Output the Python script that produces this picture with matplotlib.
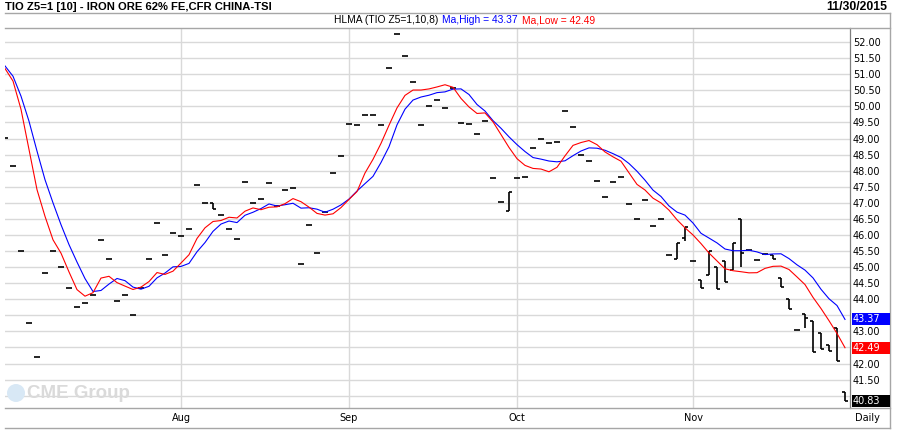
import matplotlib
matplotlib.use('Agg')
import matplotlib.pyplot as plt
import matplotlib.transforms as mtrans
from matplotlib.collections import LineCollection
from matplotlib.patches import Rectangle, Ellipse
from matplotlib.lines import Line2D
import numpy as np
import pandas as pd

# ---------------- data ----------------
opens = [49.02, 48.16, 45.51, 43.26, 42.20, 44.81, 45.51, 45.00, 44.35, 43.75,
         43.88, 44.13, 45.84, 45.25, 43.94, 44.13, 43.51, 44.35, 45.25, 46.37,
         45.38, 46.06, 45.97, 46.19, 47.56, 47.00, 47.00, 46.62, 46.19, 45.88,
         47.66, 47.00, 47.12, 47.62, 46.91, 47.41, 47.46, 45.10, 46.31, 45.44,
         46.70, 47.94, 48.46, 49.44, 49.41, 49.72, 49.72, 49.41, 51.21, 52.26,
         51.58, 50.77, 49.41, 50.00, 50.21, 49.96, 50.58, 49.48, 49.46, 49.15,
         49.55, 47.78, 47.03, 46.76, 47.78, 47.81, 48.71, 48.99, 48.87, 48.90,
         49.87, 49.37, 48.49, 48.31, 47.68, 47.18, 47.65, 47.81, 46.97, 46.50,
         47.09, 46.28, 46.50, 45.38, 45.25, 45.90, 45.19, 44.61, 44.74, 44.99,
         45.19, 44.90, 46.50, 45.53, 45.23, 45.42, 45.38, 44.66, 44.00, 43.05,
         43.54, 43.33, 42.96, 42.58, 43.12, 41.10]
highs = [49.02, 48.16, 45.51, 43.26, 42.20, 44.81, 45.51, 45.00, 44.35, 43.75,
         43.88, 44.13, 45.84, 45.25, 43.94, 44.13, 43.51, 44.35, 45.25, 46.37,
         45.38, 46.06, 45.97, 46.19, 47.56, 47.00, 47.00, 46.62, 46.19, 45.88,
         47.66, 47.00, 47.12, 47.62, 46.91, 47.41, 47.46, 45.10, 46.31, 45.44,
         46.70, 47.94, 48.46, 49.44, 49.41, 49.72, 49.72, 49.41, 51.21, 52.26,
         51.58, 50.77, 49.41, 50.00, 50.21, 49.96, 50.58, 49.48, 49.46, 49.15,
         49.55, 47.78, 47.03, 47.34, 47.78, 47.81, 48.71, 48.99, 48.87, 48.90,
         49.87, 49.37, 48.49, 48.31, 47.68, 47.18, 47.65, 47.81, 46.97, 46.50,
         47.09, 46.28, 46.50, 45.38, 45.75, 46.25, 45.19, 44.61, 45.49, 44.99,
         45.19, 45.75, 46.50, 45.53, 45.23, 45.42, 45.38, 44.66, 44.00, 43.05,
         43.54, 43.33, 42.96, 42.58, 43.12, 41.10]
lows = [49.02, 48.16, 45.51, 43.26, 42.20, 44.81, 45.51, 45.00, 44.35, 43.75,
        43.88, 44.13, 45.84, 45.25, 43.94, 44.13, 43.51, 44.35, 45.25, 46.37,
        45.38, 46.06, 45.97, 46.19, 47.56, 47.00, 46.82, 46.62, 46.19, 45.88,
        47.66, 47.00, 47.12, 47.62, 46.91, 47.41, 47.46, 45.10, 46.31, 45.44,
        46.70, 47.94, 48.46, 49.44, 49.41, 49.72, 49.72, 49.41, 51.21, 52.26,
        51.58, 50.77, 49.41, 50.00, 50.21, 49.96, 50.58, 49.48, 49.46, 49.15,
        49.55, 47.78, 47.03, 46.76, 47.78, 47.81, 48.71, 48.99, 48.87, 48.90,
        49.87, 49.37, 48.49, 48.31, 47.68, 47.18, 47.65, 47.81, 46.97, 46.50,
        47.09, 46.28, 46.50, 45.38, 45.25, 45.81, 45.19, 44.35, 44.74, 44.32,
        44.54, 44.90, 45.00, 45.53, 45.23, 45.42, 45.25, 44.38, 43.69, 43.05,
        43.10, 42.35, 42.45, 42.39, 42.07, 40.83]
closes = [49.02, 48.16, 45.51, 43.26, 42.20, 44.81, 45.51, 45.00, 44.35, 43.75,
          43.88, 44.13, 45.84, 45.25, 43.94, 44.13, 43.51, 44.35, 45.25, 46.37,
          45.38, 46.06, 45.97, 46.19, 47.56, 47.00, 46.82, 46.62, 46.19, 45.88,
          47.66, 47.00, 47.12, 47.62, 46.91, 47.41, 47.46, 45.10, 46.31, 45.44,
          46.70, 47.94, 48.46, 49.44, 49.41, 49.72, 49.72, 49.41, 51.21, 52.26,
          51.58, 50.77, 49.41, 50.00, 50.21, 49.96, 50.58, 49.48, 49.46, 49.15,
          49.55, 47.78, 47.03, 47.34, 47.78, 47.81, 48.71, 48.99, 48.87, 48.90,
          49.87, 49.37, 48.49, 48.31, 47.68, 47.18, 47.65, 47.81, 46.97, 46.50,
          47.09, 46.28, 46.50, 45.38, 45.75, 46.25, 45.19, 44.35, 45.49, 44.32,
          44.54, 45.75, 45.44, 45.53, 45.23, 45.42, 45.25, 44.38, 43.69, 43.05,
          43.41, 42.35, 42.45, 42.39, 42.07, 40.83]

# moving-average values before the windows fill
ma_high_lead = [51.26, 50.94, 50.32, 49.54, 48.61, 47.72, 47.00, 46.32, 45.70]
ma_low_lead = [51.18, 50.79, 49.91, 48.66, 47.41, 46.58, 45.85]

month_labels = ['Aug', 'Sep', 'Oct', 'Nov']
month_start_idx = [22, 43, 64, 86]
y_ticks = [41.0, 41.5, 42.0, 42.5, 43.0, 43.5, 44.0, 44.5, 45.0, 45.5, 46.0,
           46.5, 47.0, 47.5, 48.0, 48.5, 49.0, 49.5, 50.0, 50.5, 51.0, 51.5, 52.0]

title = 'TIO Z5=1 [10] - IRON ORE 62% FE,CFR CHINA-TSI'
date_text = '11/30/2015'

# ---------------- derived series ----------------
ma_high = pd.Series(highs).rolling(10).mean().to_numpy()
ma_high[:len(ma_high_lead)] = ma_high_lead
ma_low = pd.Series(lows).rolling(8).mean().to_numpy()
ma_low[:len(ma_low_lead)] = ma_low_lead

# ---------------- figure ----------------
W, H = 897, 436
fig = plt.figure(figsize=(W / 100, H / 100), dpi=100, facecolor='white')
renderer = fig.canvas.get_renderer()

def fx(px):
    return px / W

def fy(py):
    return 1 - py / H

def text_w(t):
    return t.get_window_extent(renderer).width

ax_left, ax_right, ax_top, ax_bot = 5, 850, 27.7, 408.3
ax = fig.add_axes([fx(ax_left), fy(ax_bot), fx(ax_right - ax_left),
                   (ax_bot - ax_top) / H])
ax.set_facecolor('none')
n = len(closes)
xs = np.arange(n)
ax.set_xlim(0, (ax_right - ax_left) / 8.0)
ax.set_ylim(40.606, 52.45)

box_h = 12 / 32.08
box_vals = [(ma_high[-1], '#0000ff'), (ma_low[-1], '#ff0000'),
            (closes[-1], '#000000')]

# grid + tick labels (labels covered by a value box are left blank)
def tick_label(v):
    for bv, _ in box_vals:
        if abs(v - bv) < box_h / 2:
            return ''
    return f'{v:.2f}'

ax.set_yticks(y_ticks)
ax.set_yticklabels([tick_label(v) for v in y_ticks])
ax.yaxis.tick_right()
ax.set_xticks(month_start_idx)
ax.set_xticklabels(month_labels)
ax.tick_params(axis='y', length=0, pad=2.2, labelsize=7, labelcolor='black')
ax.tick_params(axis='x', length=0, pad=3.6, labelsize=7, labelcolor='black')
ax.grid(True, color='#d9d9d9', lw=1.0)
ax.set_axisbelow(True)
for s in ['left', 'top', 'bottom']:
    ax.spines[s].set_visible(False)
ax.spines['right'].set_color('#7f7f7f')
ax.spines['right'].set_linewidth(0.9)

# OHLC bars
half = 0.375
segs = []
for i in range(n):
    if highs[i] > lows[i]:
        segs.append([(xs[i], lows[i]), (xs[i], highs[i])])
    segs.append([(xs[i] - half, opens[i]), (xs[i], opens[i])])
    segs.append([(xs[i], closes[i]), (xs[i] + half, closes[i])])
ax.add_collection(LineCollection(segs, colors='black', linewidths=1.2,
                                 capstyle='butt', zorder=3))

# HLMA lines
ax.plot(xs, ma_high, color='#0000ff', lw=0.8, zorder=4)
ax.plot(xs, ma_low, color='#ff0000', lw=0.8, zorder=4)

# frame lines
gray = '#a6a6a6'
def hline(py, x0=5, x1=890, c=gray, lw=1.0):
    fig.add_artist(Line2D([fx(x0), fx(x1)], [fy(py), fy(py)], color=c, lw=lw,
                          transform=fig.transFigure))
hline(13.3)
hline(27.7)
hline(408.3)
hline(428.0)
fig.add_artist(Line2D([fx(890), fx(890)], [fy(13.3), fy(428)], color=gray,
                      lw=1.0, transform=fig.transFigure))

# header texts
fam = ['Liberation Sans', 'DejaVu Sans']
t = fig.text(fx(5), fy(7.3), title, fontsize=9, fontweight='bold',
             family=fam, va='center', ha='left')
t.set_fontsize(9 * 267 / text_w(t))
fig.text(fx(887), fy(7.3), date_text, fontsize=8.8, fontweight='bold',
         family=fam, va='center', ha='right')

pieces = [('HLMA (TIO Z5=1,10,8)', 'black', 334),
          (f'Ma,High = {ma_high[-1]:.2f}', '#0000ff', 410),
          (f'Ma,Low = {ma_low[-1]:.2f}', '#ff0000', 505)]
hs = 7.2
probe = fig.text(0, 0, pieces[2][0], fontsize=hs, family=fam)
hs = hs * 74 / text_w(probe)
probe.remove()
xcur = 0
for txt, col, x0 in pieces:
    xpos = max(x0, xcur)
    tt = fig.text(fx(xpos), fy(20.3), txt, fontsize=hs, family=fam,
                  color=col, va='center', ha='left')
    xcur = xpos + text_w(tt) + 4

# Daily label
fig.text(fx(867), fy(418), 'Daily', fontsize=7, ha='center', va='center')

# value boxes on the price axis
bt = mtrans.blended_transform_factory(fig.transFigure, ax.transData)
for val, col in box_vals:
    fig.add_artist(Rectangle((fx(851.5), val - box_h / 2), fx(38), box_h,
                             transform=bt, facecolor=col, edgecolor='none',
                             zorder=10))
    fig.text(fx(853), val, f'{val:.2f}', transform=bt, fontsize=7,
             color='white', va='center', ha='left', zorder=11)

# CME Group watermark
fig.add_artist(Ellipse((fx(16), fy(393)), fx(18), 18 / H,
                       transform=fig.transFigure, facecolor='#d8e8f5',
                       edgecolor='none', zorder=0.5))
fig.text(fx(27), fy(393), 'CME Group', fontsize=13.5, fontweight='bold',
         family=fam, color='#dadada', va='center', ha='left', zorder=0.5)

fig.savefig('out.png', dpi=100, facecolor='white')
